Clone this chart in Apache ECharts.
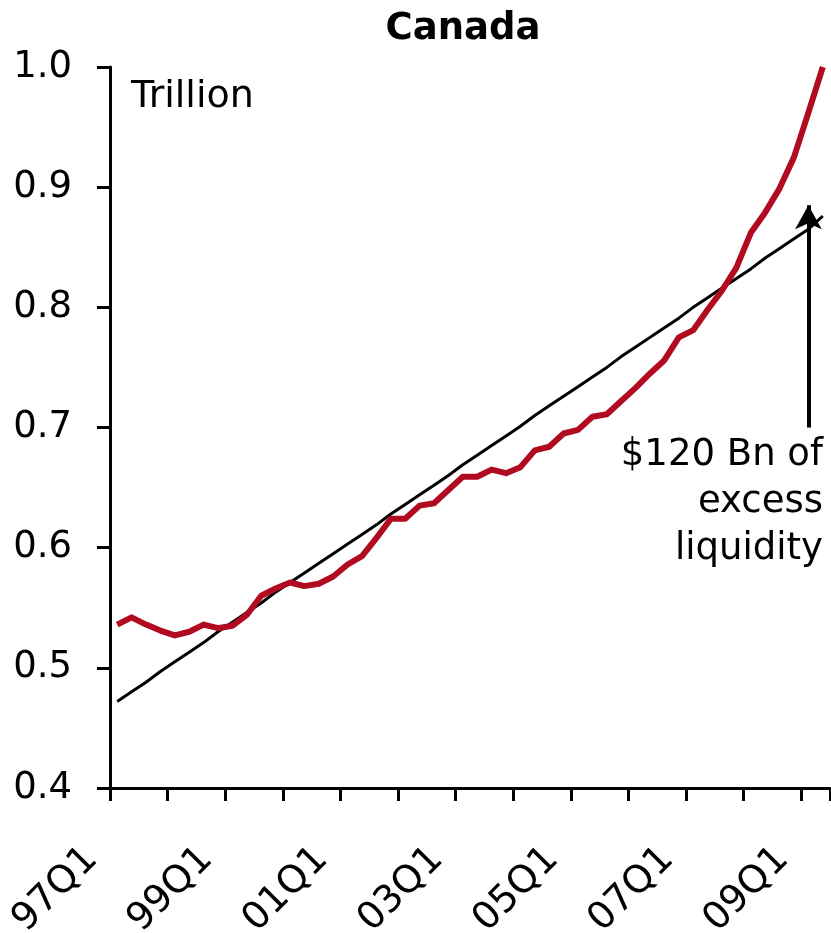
<!DOCTYPE html>
<html>
<head>
<meta charset="utf-8">
<script src="https://cdn.jsdelivr.net/npm/echarts@6/dist/echarts.min.js"></script>
<style>
    html, body { margin: 0; padding: 0; background: #fff; }
    #chart { width: 831px; height: 933px; }
</style>
</head>
<body>
<div id="chart"></div>
<script>
    // quarters 97Q1 .. 09Q2
    var quarters = [
        '97Q1', '97Q2', '97Q3', '97Q4', '98Q1', '98Q2', '98Q3', '98Q4',
        '99Q1', '99Q2', '99Q3', '99Q4', '00Q1', '00Q2', '00Q3', '00Q4',
        '01Q1', '01Q2', '01Q3', '01Q4', '02Q1', '02Q2', '02Q3', '02Q4',
        '03Q1', '03Q2', '03Q3', '03Q4', '04Q1', '04Q2', '04Q3', '04Q4',
        '05Q1', '05Q2', '05Q3', '05Q4', '06Q1', '06Q2', '06Q3', '06Q4',
        '07Q1', '07Q2', '07Q3', '07Q4', '08Q1', '08Q2', '08Q3', '08Q4',
        '09Q1', '09Q2'
    ];

    // money supply, trillion (red)
    var moneySupply = [
        0.536, 0.542, 0.536, 0.531, 0.527, 0.530, 0.536, 0.533, 0.535, 0.544,
        0.560, 0.566, 0.571, 0.568, 0.570, 0.576, 0.586, 0.593, 0.608, 0.624,
        0.624, 0.635, 0.637, 0.648, 0.659, 0.659, 0.665, 0.662, 0.667, 0.681,
        0.684, 0.695, 0.698, 0.709, 0.711, 0.722, 0.733, 0.745, 0.756, 0.775,
        0.781, 0.798, 0.814, 0.833, 0.862, 0.879, 0.899, 0.925, 0.962, 1.000
    ];

    // trend (black)
    var trend = [
        0.472, 0.480, 0.488, 0.497, 0.505, 0.513, 0.521, 0.530, 0.538, 0.546,
        0.554, 0.563, 0.571, 0.579, 0.587, 0.595, 0.603, 0.611, 0.619, 0.628,
        0.636, 0.644, 0.652, 0.660, 0.669, 0.677, 0.685, 0.693, 0.701, 0.710,
        0.718, 0.726, 0.734, 0.742, 0.750, 0.759, 0.767, 0.775, 0.783, 0.791,
        0.800, 0.808, 0.816, 0.824, 0.832, 0.841, 0.849, 0.857, 0.865, 0.876
    ];

    // arrow: from / to on the 09Q1 quarter
    var arrowQuarter = '09Q1';
    var arrowFrom = 0.700;
    var arrowTo = 0.885;

    var font = '"DejaVu Sans", Verdana, sans-serif';

    var myChart = echarts.init(document.getElementById('chart'), null, { renderer: 'canvas' });
    var option = {
        animation: false,
        backgroundColor: '#fff',
        textStyle: { fontFamily: font },
        title: {
            text: 'Canada',
            left: 458,
            top: 6,
            textAlign: 'center',
            textStyle: {
                fontFamily: font,
                fontSize: 37,
                fontWeight: 'bold',
                color: '#000'
            }
        },
        grid: {
            left: 110,
            right: 1,
            top: 67,
            bottom: 145,
            containLabel: false,
            outerBoundsMode: 'none'
        },
        xAxis: {
            type: 'category',
            data: quarters,
            boundaryGap: true,
            axisLine: {
                lineStyle: { color: '#000', width: 3 }
            },
            axisTick: {
                show: true,
                interval: 3,
                length: 13,
                lineStyle: { color: '#000', width: 3 }
            },
            axisLabel: {
                interval: 7,
                rotate: 45,
                margin: 40,
                padding: [0, 36, 0, 0],
                fontFamily: font,
                fontSize: 38,
                color: '#000'
            },
            splitLine: { show: false }
        },
        yAxis: {
            type: 'value',
            min: 0.4,
            max: 1.0,
            interval: 0.1,
            axisLine: {
                show: true,
                lineStyle: { color: '#000', width: 3 }
            },
            axisTick: {
                show: true,
                length: 13,
                lineStyle: { color: '#000', width: 3 }
            },
            axisLabel: {
                margin: 38,
                fontFamily: font,
                fontSize: 37,
                color: '#000',
                formatter: function(v) {
                    return v.toFixed(1);
                }
            },
            splitLine: { show: false }
        },
        graphic: [{
            type: 'text',
            x: 131,
            y: 78,
            style: {
                text: 'Trillion',
                fontFamily: font,
                fontSize: 38,
                fill: '#000'
            }
        }, {
            type: 'text',
            x: 823,
            y: 432,
            style: {
                text: '$120 Bn of\nexcess\nliquidity',
                fontFamily: font,
                fontSize: 37,
                lineHeight: 47,
                align: 'right',
                verticalAlign: 'top',
                fill: '#000'
            }
        }],
        series: [{
            name: 'Trend',
            type: 'line',
            data: trend,
            showSymbol: false,
            clip: false,
            z: 2,
            lineStyle: { color: '#000', width: 3 },
            markLine: {
                silent: true,
                symbol: ['none', 'arrow'],
                symbolSize: [20, 24],
                label: { show: false },
                lineStyle: { color: '#000', width: 4, type: 'solid' },
                data: [
                    [{ coord: [arrowQuarter, arrowFrom] }, { coord: [arrowQuarter, arrowTo] }]
                ]
            }
        }, {
            name: 'Money',
            type: 'line',
            data: moneySupply,
            showSymbol: false,
            clip: false,
            z: 3,
            lineStyle: { color: '#b00b20', width: 6, join: 'round' }
        }]
    };
    myChart.setOption(option);
</script>
</body>
</html>
